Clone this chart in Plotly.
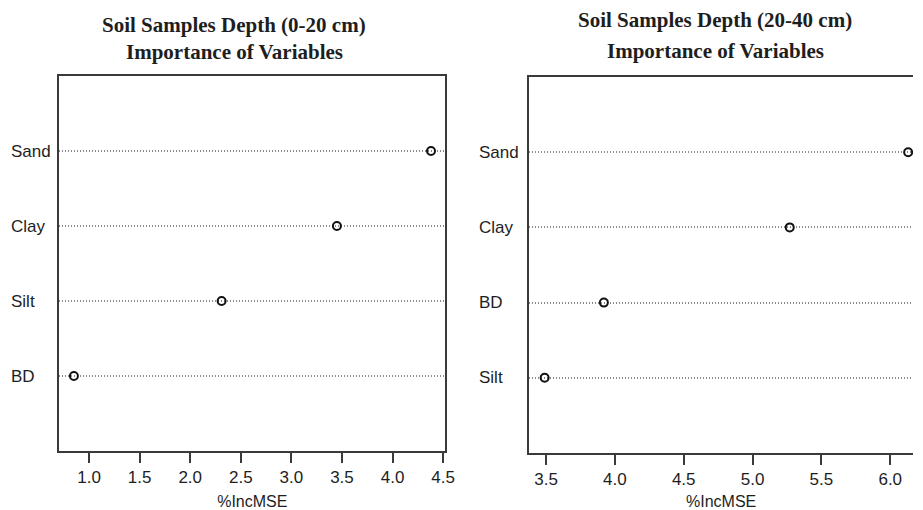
import plotly.graph_objects as go

# Data
vars_left = ["BD", "Silt", "Clay", "Sand"]          # bottom to top
vals_left = [0.85, 2.31, 3.45, 4.38]
vars_right = ["Silt", "BD", "Clay", "Sand"]         # bottom to top
vals_right = [3.49, 3.92, 5.27, 6.13]
title_left = ["Soil Samples Depth (0-20 cm)", "Importance of Variables"]
title_right = ["Soil Samples Depth (20-40 cm)", "Importance of Variables"]
xlabel = "%IncMSE"
ticks_left = [1.0, 1.5, 2.0, 2.5, 3.0, 3.5, 4.0, 4.5]
ticks_right = [3.5, 4.0, 4.5, 5.0, 5.5, 6.0]

OFF = 8  # page body margin
W, H = 923 - OFF, 510 - OFF
frame = "#3a3a3a"
txt = "#1e1e1e"
sans = "Arial, Liberation Sans, sans-serif"
serif = "Times New Roman, Liberation Serif, serif"

def px(x):
    return (x - OFF) / W

def py(y):
    return 1 - (y - OFF) / H

fig = go.Figure()
mk = dict(symbol="circle-open", size=8, color="#111", line=dict(width=2, color="#111"))
fig.add_trace(go.Scatter(x=vals_left, y=vars_left, mode="markers", xaxis="x", yaxis="y",
                         marker=mk, showlegend=False, cliponaxis=False))
fig.add_trace(go.Scatter(x=vals_right, y=vars_right, mode="markers", xaxis="x2", yaxis="y2",
                         marker=mk, showlegend=False))

def xax(domain, rng, ticks, anchor):
    return dict(domain=domain, range=rng, anchor=anchor, tickvals=ticks,
                ticktext=[f"{t:.1f}" for t in ticks],
                showgrid=False, zeroline=False, showline=True, linecolor=frame,
                linewidth=2, mirror=True, ticks="outside", ticklen=10, tickwidth=2,
                tickcolor=frame, tickfont=dict(family=sans, size=17, color=txt),
                title=dict(text=xlabel, font=dict(family=sans, size=16, color=txt),
                           standoff=9))

def yax(domain, cats, anchor, mirror):
    return dict(domain=domain, anchor=anchor, type="category", categoryorder="array",
                categoryarray=cats, range=[-1, len(cats)], showticklabels=False,
                ticks="", showgrid=True, griddash="1px,2px", gridcolor="#8a8a8a",
                gridwidth=1.5, zeroline=False, showline=True, linecolor=frame,
                linewidth=2, mirror=mirror)

x1d = [px(60), px(450)]
x2d = [px(535), 1.0]
y1d = [py(451), py(76)]
y2d = [py(453), py(77)]

x2_right = 3.5 + (923 - 552) / 139.2

fig.update_layout(
    width=W, height=H, margin=dict(l=0, r=0, t=0, b=0),
    paper_bgcolor="white", plot_bgcolor="white",
    xaxis=xax(x1d, [0.707, 4.52], ticks_left, "y"),
    yaxis=yax(y1d, vars_left, "x", True),
    xaxis2=xax(x2d, [3.378, x2_right], ticks_right, "y2"),
    yaxis2=yax(y2d, vars_right, "x2", False),
)

annots = []
for cat in vars_left:
    annots.append(dict(x=px(9), xref="paper", y=cat, yref="y", text=cat,
                       xanchor="left", yanchor="middle", showarrow=False,
                       font=dict(family=sans, size=17, color=txt)))
for cat in vars_right:
    annots.append(dict(x=px(482), xref="paper", y=cat, yref="y2", text=cat,
                       xanchor="left", yanchor="middle", showarrow=False,
                       font=dict(family=sans, size=17, color=txt)))
for t, yy in zip(title_left, [25, 52]):
    annots.append(dict(x=px(237), xref="paper", y=py(yy), yref="paper",
                       text=f"<b>{t}</b>", showarrow=False, xanchor="center",
                       yanchor="middle", font=dict(family=serif, size=21, color=txt)))
for t, yy in zip(title_right, [20, 51]):
    annots.append(dict(x=px(723), xref="paper", y=py(yy), yref="paper",
                       text=f"<b>{t}</b>", showarrow=False, xanchor="center",
                       yanchor="middle", font=dict(family=serif, size=21, color=txt)))
fig.update_layout(annotations=annots)

fig.write_html("out.html", config={"displayModeBar": False})
